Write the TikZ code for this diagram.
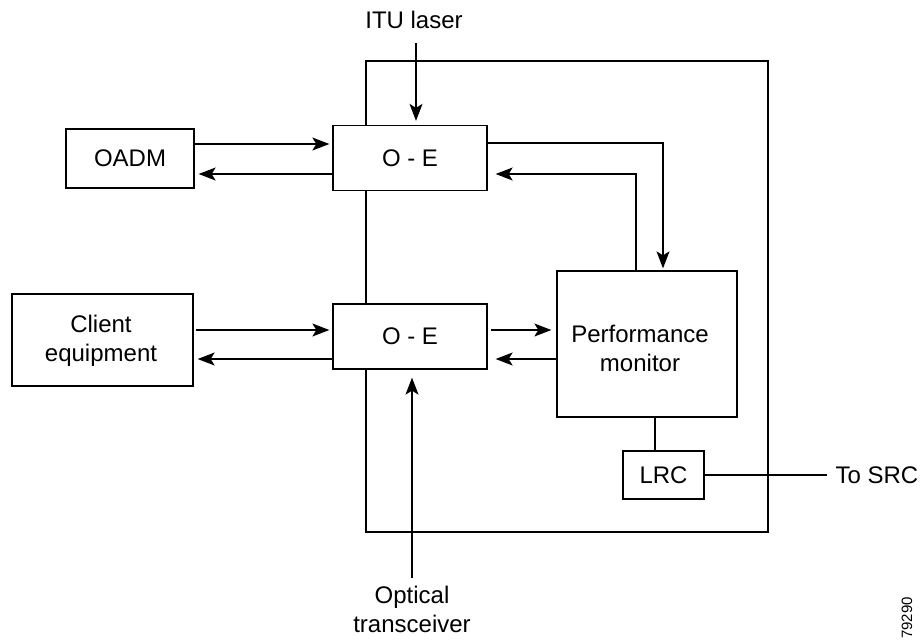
\documentclass[tikz,border=0pt]{standalone}
\usepackage{fontspec}
\setmainfont{Liberation Sans}
\usetikzlibrary{arrows.meta}
\begin{document}
\begin{tikzpicture}[x=1pt,y=-1pt,line width=1.3pt,
  box/.style={draw,fill=white,inner sep=0pt},
  lbl/.style={inner sep=0pt,align=center,font=\fontsize{24}{29}\selectfont},
  arr/.style={-{Stealth[length=17pt,width=13pt,inset=4pt]}}]
\useasboundingbox (0,0) rectangle (920,640);
% frame
\node[draw,minimum width=402pt,minimum height=471pt,inner sep=0pt] (frame) at (567,296.5) {};
% boxes
\node[box,minimum width=128pt,minimum height=59pt,lbl] (oadm) at (130,158.5) {OADM};
\node[box,minimum width=154pt,minimum height=65pt,lbl] (oe1) at (410,158) {O - E};
\node[box,minimum width=154pt,minimum height=65pt,lbl] (oe2) at (410,336.5) {O - E};
\node[box,minimum width=181pt,minimum height=92pt] (client) at (102.5,340) {};
\node[lbl] (clienttext) at (101,341) {Client\\equipment};
\node[box,minimum width=180pt,minimum height=146pt] (pm) at (647,344) {};
\node[lbl] (pmtext) at (640,348) {Performance\\monitor};
\node[box,minimum width=81pt,minimum height=48pt,lbl] (lrc) at (663.5,475) {LRC};
% labels
\node[lbl,anchor=base] (itu) at (414,28) {ITU laser};
\coordinate (itustart) at (416,43);
\node[lbl] (opt) at (412,609) {Optical\\transceiver};
\coordinate (optstart) at (412,578);
\node[lbl,anchor=west] (src) at (835,475) {To SRC};
\node[inner sep=0pt,rotate=90,font=\fontsize{15}{18}\selectfont] (num) at (907,618) {79290};
% connectors
\draw[arr,shorten >=4pt] (itustart) -- (oe1.north -| itustart);
\draw[arr,shorten >=3pt] (oadm.east |- 0,144) -- (oe1.west |- 0,144);
\draw[arr,shorten >=4pt] (oe1.west |- 0,174) -- (oadm.east |- 0,174);
\draw[arr,shorten >=2pt] (oe1.east |- 0,143) -- (663,143) -- (pm.north -| 663,0);
\draw[arr,shorten >=8pt] (pm.north -| 636,0) -- (636,174) -- (oe1.east |- 0,174);
\draw[arr,shorten >=3pt] ([xshift=2pt]client.east |- 0,330) -- (oe2.west |- 0,330);
\draw[arr,shorten >=4pt] (oe2.west |- 0,359) -- (client.east |- 0,359);
\draw[arr,shorten <=3pt,shorten >=5pt] (oe2.east |- 0,330) -- (pm.west |- 0,330);
\draw[arr,shorten >=8pt] (pm.west |- 0,359) -- (oe2.east |- 0,359);
\draw[arr,shorten >=8pt] (optstart) -- (oe2.south -| optstart);
\draw (pm.south -| 655,0) -- (lrc.north -| 655,0);
\draw (lrc.east) -- (827,475);
\end{tikzpicture}
\end{document}
